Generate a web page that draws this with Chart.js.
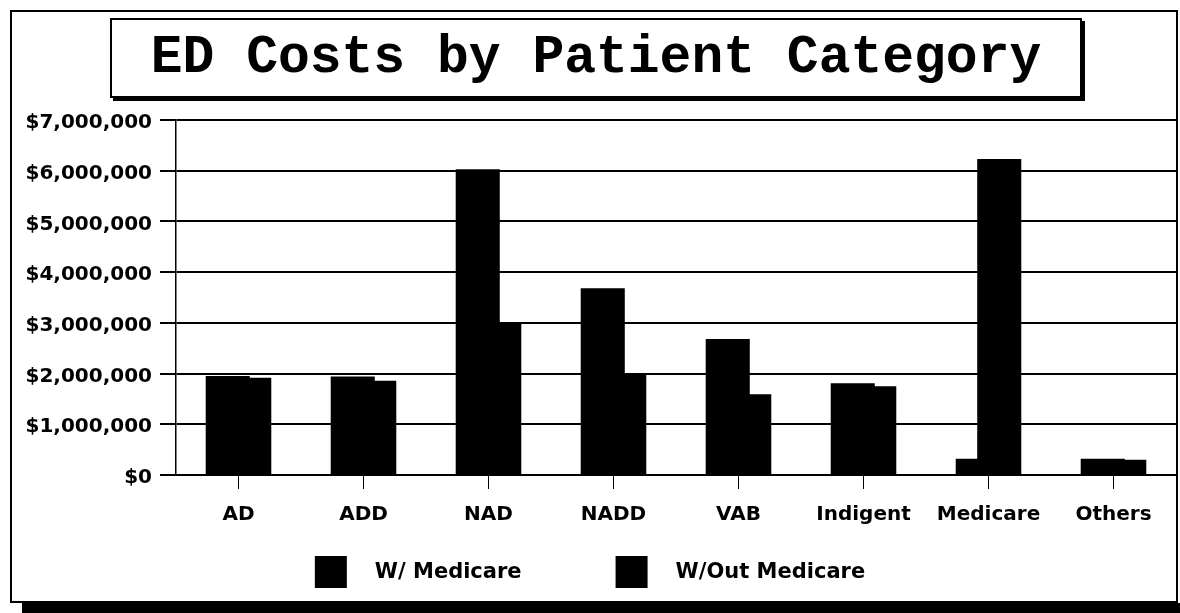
<!DOCTYPE html>
<html>
<head>
<meta charset="utf-8">
<script src="https://cdn.jsdelivr.net/npm/chart.js@4/dist/chart.umd.min.js"></script>
<style>
  html, body { margin: 0; padding: 0; background: #fff; }
  #page { position: relative; width: 1180px; height: 613px; overflow: hidden; }
  #frame { position: absolute; left: 10px; top: 10px; width: 1164px; height: 589px; border: 2px solid #000; }
  #frameShadow { position: absolute; left: 22px; top: 603px; width: 1158px; height: 10px; background: #000; }
  #title { position: absolute; left: 110px; top: 18px; width: 968px; height: 76px; border: 2px solid #000;
           box-shadow: 3px 3px 0 #000; background: #fff;
           font: bold 53px "Liberation Mono", "Courier New", monospace; color: #000;
           display: flex; align-items: center; justify-content: center; }
  #c { position: absolute; left: 0; top: 0; }
</style>
</head>
<body>
<div id="page">
  <div id="frame"></div>
  <div id="frameShadow"></div>
  <div id="title">ED Costs by Patient Category</div>
  <canvas id="c" width="1180" height="613"></canvas>
</div>
<script>
// values in dollars
const categories = ["AD", "ADD", "NAD", "NADD", "VAB", "Indigent", "Medicare", "Others"];
const withMedicare = [1950000, 1940000, 6030000, 3680000, 2680000, 1810000, 320000, 320000];
const withoutMedicare = [1920000, 1860000, 3000000, 2000000, 1590000, 1750000, 6230000, 300000];
const seriesNames = ["W/ Medicare", "W/Out Medicare"];
const yTicks = [0, 1000000, 2000000, 3000000, 4000000, 5000000, 6000000, 7000000];

const labelFont = { family: "DejaVu Sans", size: 20, weight: "bold" };

// legend drawn by hand: square, gap, text, centered on the canvas
const boxLegend = {
    id: "boxLegend",
    afterDraw(chart) {
        const ctx = chart.ctx;
        ctx.save();
        ctx.font = "bold 21px 'DejaVu Sans'";
        ctx.textBaseline = "middle";
        ctx.fillStyle = "#000";
        const box = 32, gap = 28, itemGap = 94;
        const items = chart.data.datasets.map(d => ({ text: d.label, w: ctx.measureText(d.label).width }));
        let total = items.reduce((s, it) => s + box + gap + it.w, 0) + itemGap * (items.length - 1);
        let x = chart.width / 2 - total / 2;
        const y = 556;
        items.forEach((it, i) => {
            ctx.fillStyle = chart.data.datasets[i].backgroundColor;
            ctx.fillRect(x, y, box, box);
            ctx.fillStyle = "#000";
            ctx.fillText(it.text, x + box + gap, y + 17);
            x += box + gap + it.w + itemGap;
        });
        ctx.restore();
    }
};

new Chart(document.getElementById("c"), {
    type: "bar",
    data: {
        labels: categories,
        datasets: [
            { label: seriesNames[0], data: withMedicare, backgroundColor: "#000", borderWidth: 0 },
            { label: seriesNames[1], data: withoutMedicare, backgroundColor: "#000", borderWidth: 0 }
        ]
    },
    options: {
        responsive: false,
        animation: false,
        layout: { padding: { top: 120, right: 4, left: 0, bottom: 0 } },
        datasets: { bar: { categoryPercentage: 0.344, barPercentage: 2.05 } },
        plugins: {
            legend: { display: false },
            tooltip: { enabled: false },
            title: { display: false }
        },
        scales: {
            x: {
                afterFit(scale) { scale.height = 138; },
                grid: { offset: false, drawOnChartArea: false, drawTicks: true, tickLength: 14, color: "#000", lineWidth: 1 },
                border: { display: true, color: "#000", width: 2 },
                ticks: { color: "#000", font: labelFont, padding: 14, maxRotation: 0 }
            },
            y: {
                min: 0,
                max: 7000000,
                afterFit(scale) { scale.width = 176; },
                afterBuildTicks(scale) { scale.ticks = yTicks.map(v => ({ value: v })); },
                grid: { color: "#000", lineWidth: 2, tickLength: 16, drawTicks: true },
                border: { display: true, color: "#000", width: 1.5 },
                ticks: {
                    color: "#000",
                    font: labelFont,
                    padding: 8,
                    labelOffset: 3,
                    callback: v => "$" + Number(v).toLocaleString("en-US")
                }
            }
        }
    },
    plugins: [boxLegend]
});
</script>
</body>
</html>
